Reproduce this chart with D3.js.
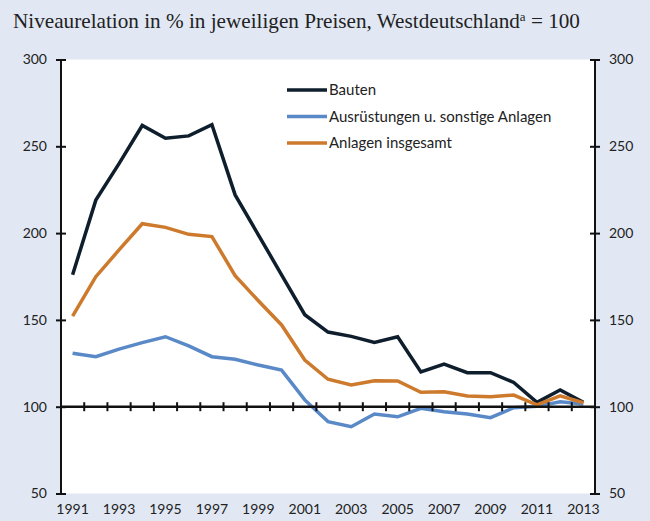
<!DOCTYPE html>
<html>
<head>
<meta charset="utf-8">
<script src="https://cdn.jsdelivr.net/npm/d3@7"></script>
<style>
  body { margin: 0; background: #e1e8f4; }
  svg { display: block; }
  .tick text { font-family: Lato, sans-serif; font-size: 14px; fill: #222; }
</style>
</head>
<body>
<svg id="chart" width="650" height="521"></svg>
<script>
// data
const years = d3.range(1991, 2014);
const bauten = [176, 219, 240, 262, 254.6, 256, 262.5, 222, 199, 176, 153, 143, 140.5, 137, 140.3, 120, 124.6, 119.6, 119.6, 114, 102.5, 109.6, 102.5];
const ausruestungen = [130.8, 128.8, 133.2, 136.9, 140.3, 135, 128.8, 127.3, 124, 121.1, 103.9, 91.4, 88.5, 95.8, 94.2, 99.1, 97.1, 95.8, 93.7, 99.4, 100.2, 102.9, 101.6];
const insgesamt = [152.2, 174.9, 190.3, 205.4, 203.3, 199.3, 198, 175.5, 161, 147.1, 126.9, 115.8, 112.5, 115, 114.8, 108.3, 108.6, 106.2, 105.8, 106.7, 101, 106.2, 102.3];
const yTicks = [50, 100, 150, 200, 250, 300];
const yearLabels = years.filter(y => y % 2 === 1);

const series = [
  { name: 'Bauten', values: bauten, color: '#0f1e2c' },
  { name: 'Ausrüstungen u. sonstige Anlagen', values: ausruestungen, color: '#5a89c8' },
  { name: 'Anlagen insgesamt', values: insgesamt, color: '#cd7a2d' }
];

const svg = d3.select('#chart');
const margin = { left: 61, right: 55, top: 59.5, bottom: 27.5 };
const width = +svg.attr('width');
const height = +svg.attr('height');
const innerWidth = width - margin.left - margin.right;
const innerHeight = height - margin.top - margin.bottom;

// title
const title = svg.append('text')
  .attr('x', 13)
  .attr('y', 28)
  .attr('font-family', '"Liberation Serif", serif')
  .attr('font-size', 21.2)
  .attr('fill', '#222');
title.append('tspan').text('Niveaurelation in % in jeweiligen Preisen, Westdeutschland');
title.append('tspan').attr('font-size', 13).attr('dy', -7).text('a');
title.append('tspan').attr('dy', 7).text(' = 100');

const g = svg.append('g')
  .attr('transform', `translate(${margin.left},${margin.top})`);

g.append('rect')
  .attr('width', innerWidth)
  .attr('height', innerHeight)
  .attr('fill', '#fff');

const xScale = d3.scaleBand()
  .domain(years)
  .range([0, innerWidth]);
const xMid = d => xScale(d) + xScale.bandwidth() / 2;

const yScale = d3.scaleLinear()
  .domain([50, 300])
  .range([innerHeight, 0]);

// y axes, ticks crossing the axis line
const leftOut = d3.axisLeft(yScale).tickValues(yTicks).tickSize(5).tickPadding(9);
const leftIn = d3.axisRight(yScale).tickValues(yTicks).tickSize(5);
const yL = g.append('g').call(leftOut);
const yLIn = g.append('g').call(leftIn);
yLIn.select('.domain').remove();
yLIn.selectAll('text').remove();
yL.select('.domain').attr('d', `M0,0V${innerHeight}`);

const rightOut = d3.axisRight(yScale).tickValues(yTicks).tickSize(5).tickPadding(9);
const rightIn = d3.axisLeft(yScale).tickValues(yTicks).tickSize(5);
const yR = g.append('g').attr('transform', `translate(${innerWidth},0)`).call(rightOut);
const yRIn = g.append('g').attr('transform', `translate(${innerWidth},0)`).call(rightIn);
yRIn.select('.domain').remove();
yRIn.selectAll('text').remove();
yR.select('.domain').attr('d', `M0,0V${innerHeight}`);

g.selectAll('.domain, .tick line').attr('stroke', '#111').attr('stroke-width', 2);

// x labels along the bottom
const xAxis = d3.axisBottom(xScale).tickValues(yearLabels).tickSize(0).tickPadding(11);
g.append('g')
  .attr('transform', `translate(0,${innerHeight})`)
  .call(xAxis)
  .select('.domain').remove();

// lines
const line = d3.line()
  .x((d, i) => xMid(years[i]))
  .y(d => yScale(d));

g.selectAll('.series').data(series)
  .enter().append('path')
    .attr('class', 'series')
    .attr('d', d => line(d.values))
    .attr('fill', 'none')
    .attr('stroke', d => d.color)
    .attr('stroke-width', 3.5)
    .attr('stroke-linejoin', 'miter');

// base line at 100 with ticks at year boundaries
const y100 = yScale(100);
g.append('line')
  .attr('x1', 0).attr('x2', innerWidth)
  .attr('y1', y100).attr('y2', y100)
  .attr('stroke', '#111').attr('stroke-width', 2.5);
g.selectAll('.yeartick').data(years.slice(1))
  .enter().append('line')
    .attr('class', 'yeartick')
    .attr('x1', d => xScale(d)).attr('x2', d => xScale(d))
    .attr('y1', y100 - 4.5).attr('y2', y100 + 4.5)
    .attr('stroke', '#111').attr('stroke-width', 2);

// legend
const legend = svg.append('g').attr('transform', 'translate(287,90)');
const item = legend.selectAll('g').data(series)
  .enter().append('g')
    .attr('transform', (d, i) => `translate(0,${i * 26.5})`);
item.append('line')
  .attr('x1', 0).attr('x2', 40)
  .attr('stroke', d => d.color)
  .attr('stroke-width', 3.5);
item.append('text')
  .attr('x', 42)
  .attr('y', 5)
  .attr('font-family', 'Lato, sans-serif')
  .attr('font-size', 15)
  .attr('fill', '#222')
  .text(d => d.name);
</script>
</body>
</html>
